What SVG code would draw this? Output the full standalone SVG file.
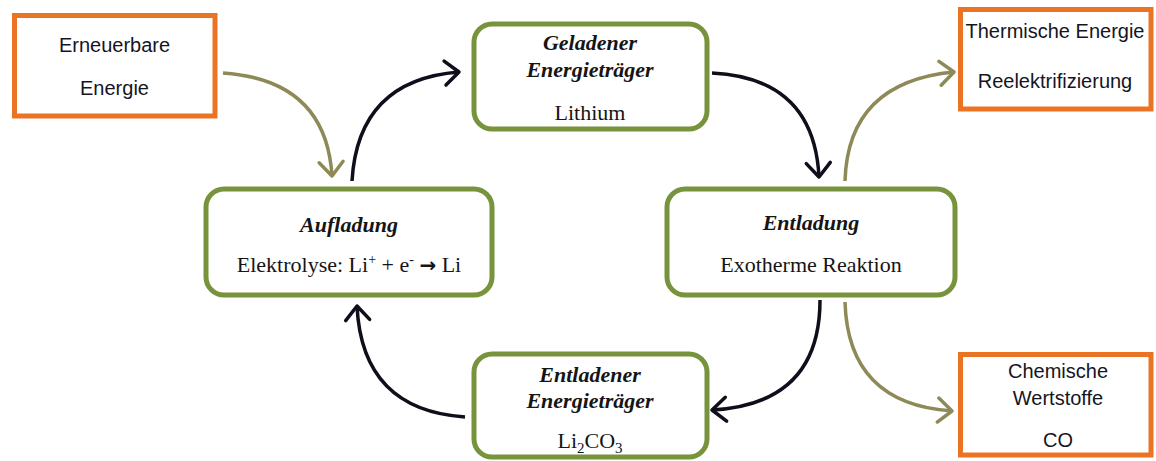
<svg xmlns="http://www.w3.org/2000/svg" width="1156" height="461" viewBox="0 0 1156 461">
<style>
.ob{fill:#fff;stroke:#EA7424;stroke-width:5}
.gb{fill:#fff;stroke:#77933C;stroke-width:5}
.sans{font-family:"Liberation Sans",Arial,sans-serif;font-size:20px;fill:#15151f;text-anchor:middle}
.ser{font-family:"Liberation Serif","Times New Roman",serif;font-size:22px;fill:#151515;text-anchor:middle}
.ti{font-weight:bold;font-style:italic}
.ka{fill:none;stroke:#0f0f1c;stroke-width:3.5}
.oa{fill:none;stroke:#8E8A58;stroke-width:3.5}
</style>
<defs>
<marker id="mk" markerUnits="userSpaceOnUse" markerWidth="30" markerHeight="30" refX="0" refY="0" viewBox="-20 -15 25 30" orient="auto">
<path d="M-14,-12 L0,0 L-14,12" fill="none" stroke="#0f0f1c" stroke-width="3.5" stroke-linecap="round" stroke-linejoin="round"/>
</marker>
<marker id="mo" markerUnits="userSpaceOnUse" markerWidth="30" markerHeight="30" refX="0" refY="0" viewBox="-20 -15 25 30" orient="auto">
<path d="M-14,-12 L0,0 L-14,12" fill="none" stroke="#8E8A58" stroke-width="3.5" stroke-linecap="round" stroke-linejoin="round"/>
</marker>
</defs>
<g id="connectors">
<path class="oa" d="M223,73 Q326,80 332,176" marker-end="url(#mo)"/>
<path class="ka" d="M352,181 Q358,80 459,72" marker-end="url(#mk)"/>
<path class="ka" d="M712,73 Q814,78 819,177" marker-end="url(#mk)"/>
<path class="oa" d="M845,181 Q848,82 954,72" marker-end="url(#mo)"/>
<path class="ka" d="M820,300 Q820,404 712,410" marker-end="url(#mk)"/>
<path class="oa" d="M845,302 Q848,404 952,411" marker-end="url(#mo)"/>
<path class="ka" d="M465,417 Q362,410 357,306" marker-end="url(#mk)"/>
</g>
<g id="erneuerbare">
<rect class="ob" x="14.5" y="15.5" width="200.5" height="100.5"/>
<text class="sans" x="114.5" y="52">Erneuerbare</text>
<text class="sans" x="114.5" y="95">Energie</text>
</g>
<g id="geladener">
<rect class="gb" x="474" y="24" width="233" height="105" rx="18"/>
<text class="ser ti" x="590" y="50">Geladener</text>
<text class="ser ti" x="590" y="77">Energieträger</text>
<text class="ser" x="590" y="120">Lithium</text>
</g>
<g id="thermische">
<rect class="ob" x="960.5" y="9.5" width="190.5" height="99.5"/>
<text class="sans" x="1055" y="38">Thermische Energie</text>
<text class="sans" x="1055" y="88">Reelektrifizierung</text>
</g>
<g id="aufladung">
<rect class="gb" x="206" y="189" width="286" height="106" rx="18"/>
<text class="ser ti" x="349" y="232">Aufladung</text>
<text class="ser" x="349" y="272">Elektrolyse: Li<tspan font-size="14" dy="-8">+</tspan><tspan dy="8"> + e</tspan><tspan font-size="14" dy="-8">-</tspan><tspan dy="8"> </tspan><tspan font-family="DejaVu Sans, sans-serif" font-weight="bold" font-size="20">→</tspan> Li</text>
</g>
<g id="entladung">
<rect class="gb" x="667" y="189" width="288" height="106" rx="18"/>
<text class="ser ti" x="811" y="230">Entladung</text>
<text class="ser" x="811" y="272">Exotherme Reaktion</text>
</g>
<g id="entladener">
<rect class="gb" x="474" y="354" width="233" height="103" rx="18"/>
<text class="ser ti" x="590" y="382">Entladener</text>
<text class="ser ti" x="590" y="408">Energieträger</text>
<text class="ser" x="590" y="448">Li<tspan font-size="15" dy="5">2</tspan><tspan dy="-5">CO</tspan><tspan font-size="15" dy="5">3</tspan></text>
</g>
<g id="chemische">
<rect class="ob" x="960.5" y="354.5" width="190.5" height="100.5"/>
<text class="sans" x="1058" y="378">Chemische</text>
<text class="sans" x="1058" y="405">Wertstoffe</text>
<text class="sans" x="1058" y="447">CO</text>
</g>
</svg>
